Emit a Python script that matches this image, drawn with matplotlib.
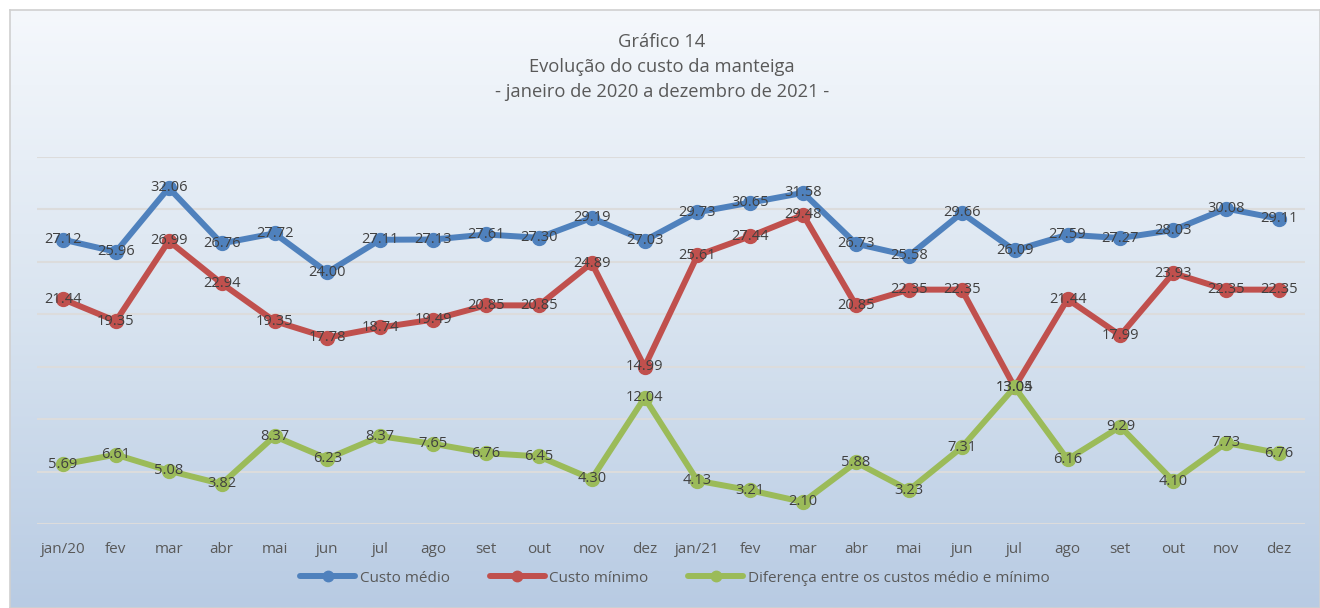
#!/usr/bin/env python3
"""Gráfico 14 - evolução do custo da manteiga (jan/2020 a dez/2021)."""

import matplotlib

matplotlib.use("Agg")
import matplotlib.pyplot as plt
import numpy as np
from matplotlib.colors import LinearSegmentedColormap

plt.rcParams["font.family"] = ["Open Sans", "DejaVu Sans"]

months = ["jan/20", "fev", "mar", "abr", "mai", "jun", "jul", "ago", "set", "out", "nov", "dez",
          "jan/21", "fev", "mar", "abr", "mai", "jun", "jul", "ago", "set", "out", "nov", "dez"]

custo_medio = [27.12, 25.96, 32.06, 26.76, 27.72, 24.00, 27.11, 27.13, 27.61, 27.30, 29.19, 27.03,
               29.73, 30.65, 31.58, 26.73, 25.58, 29.66, 26.09, 27.59, 27.27, 28.03, 30.08, 29.11]
custo_minimo = [21.44, 19.35, 26.99, 22.94, 19.35, 17.78, 18.74, 19.49, 20.85, 20.85, 24.89, 14.99,
                25.61, 27.44, 29.48, 20.85, 22.35, 22.35, 13.04, 21.44, 17.99, 23.93, 22.35, 22.35]
diferenca = [5.69, 6.61, 5.08, 3.82, 8.37, 6.23, 8.37, 7.65, 6.76, 6.45, 4.30, 12.04,
             4.13, 3.21, 2.10, 5.88, 3.23, 7.31, 13.05, 6.16, 9.29, 4.10, 7.73, 6.76]

series = [
    ("Custo médio", custo_medio, "#4f81bd"),
    ("Custo mínimo", custo_minimo, "#c0504d"),
    ("Diferença entre os custos médio e mínimo", diferenca, "#9bbb59"),
]

W, H = 1320, 608
fig = plt.figure(figsize=(W / 100, H / 100), dpi=100)
fig.patch.set_facecolor("white")

# gradient chart area with thin grey border
bg = fig.add_axes([10 / W, 0, 1310 / W, 598 / H])
grad = LinearSegmentedColormap.from_list("bg", ["#f5f8fc", "#d9e4f0", "#b8cbe3"])
bg.imshow(np.linspace(0, 1, 256).reshape(-1, 1), aspect="auto", cmap=grad,
          extent=[0, 1, 0, 1], origin="upper")
bg.set_xticks([])
bg.set_yticks([])
for s in bg.spines.values():
    s.set_color("#d0d0d0")
    s.set_linewidth(1.2)

ax = fig.add_axes([36.6 / W, (H - 524) / H, (1305.4 - 36.6) / W, (524 - 157) / H])
ax.set_facecolor("none")
x = np.arange(len(months))
for name, vals, color in series:
    ax.plot(x, vals, color=color, linewidth=4.3, marker="o", markersize=10,
            solid_capstyle="round", label=name, zorder=3)
    for xi, v in zip(x, vals):
        ax.text(xi, v, f"{v:.2f}", ha="center", va="center", fontsize=10.5,
                color="#404040", zorder=4)

ax.set_xlim(-0.5, len(months) - 0.5)
ax.set_ylim(0, 35)
ax.set_yticks(np.arange(0, 36, 5))
ax.set_yticklabels([])
ax.grid(axis="y", color="#dcdcdc", linewidth=1.5, zorder=0)
ax.set_axisbelow(True)
ax.set_xticks(x)
ax.set_xticklabels(months)
ax.tick_params(axis="x", length=0, pad=13, labelsize=11, labelcolor="#595959")
ax.tick_params(axis="y", length=0)
for s in ax.spines.values():
    s.set_visible(False)

title_lines = ["Gráfico 14", "Evolução do custo da manteiga", "- janeiro de 2020 a dezembro de 2021 -"]
for i, line in enumerate(title_lines):
    fig.text(662 / W, 1 - (42 + 25 * i) / H, line, ha="center", va="center",
             fontsize=13.2, color="#595959")

leg = fig.legend(loc="center", bbox_to_anchor=(675 / W, 1 - 578 / H), ncol=3, frameon=False,
                 fontsize=11, handlelength=3.6, columnspacing=2.6, handletextpad=0.3,
                 markerscale=0.75)
for t in leg.get_texts():
    t.set_color("#595959")

fig.savefig("out.png", dpi=100)
